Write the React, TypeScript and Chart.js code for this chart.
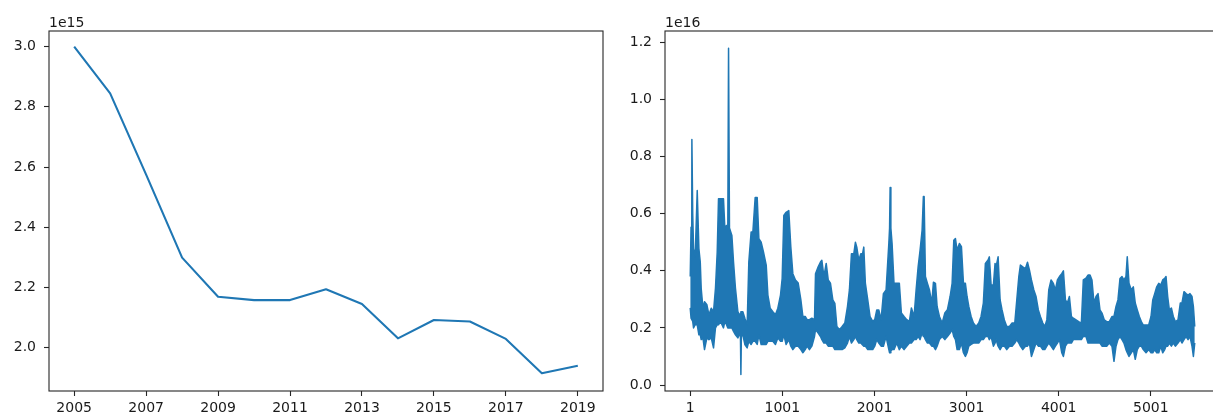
import React, { useEffect, useRef } from "react";
import { Chart, registerables } from "chart.js";

Chart.register(...registerables);

// ---------- Left panel: yearly totals (units of 1e15) ----------
const years = [2005, 2006, 2007, 2008, 2009, 2010, 2011, 2012, 2013, 2014, 2015, 2016, 2017, 2018, 2019];
const yearlyTotals = [3.0, 2.845, 2.575, 2.299, 2.169, 2.158, 2.158, 2.194, 2.145, 2.031, 2.092, 2.087, 2.029, 1.915, 1.94];
const yearTicks = [2005, 2007, 2009, 2011, 2013, 2015, 2017, 2019];
const leftYTicks = [2.0, 2.2, 2.4, 2.6, 2.8, 3.0];
const leftOffsetLabel = "1e15";

// ---------- Right panel: daily series (units of 1e16), upper / lower envelope read per column ----------
const days = [
  1, 10, 19, 28, 37, 55, 77, 95, 110, 120, 139, 156, 182, 204, 229, 254, 275, 294, 308, 330, 362, 377, 395, 409, 417, 427,
  453, 471, 492, 518, 535, 546, 551, 556, 572, 594, 619, 637, 662, 681, 706, 728, 746, 771, 796, 826, 844, 869, 898, 926,
  952, 981, 999, 1017, 1042, 1071,
  1093, 1115, 1143, 1173, 1202, 1224, 1249, 1270, 1295, 1321, 1350, 1361, 1390, 1415, 1430, 1452, 1477, 1499, 1523, 1549,
  1571, 1593, 1621, 1650, 1679, 1708, 1729, 1751, 1777, 1794, 1809, 1831, 1853, 1872, 1885, 1902, 1928, 1953, 1982, 2004,
  2026, 2048, 2073, 2098, 2127,
  2157, 2165, 2171, 2179, 2192, 2213, 2243, 2271, 2293, 2322, 2351, 2380, 2402, 2431, 2453, 2475, 2496, 2518, 2532, 2540,
  2554, 2576, 2598, 2623, 2641, 2663, 2681, 2706, 2736, 2765, 2793, 2822, 2844, 2862, 2880, 2898, 2923, 2945, 2967, 2988,
  3006, 3025, 3050, 3075, 3104, 3133, 3158, 3183, 3205, 3234,
  3248, 3267, 3292, 3310, 3321, 3343, 3365, 3386, 3411, 3437, 3466, 3495, 3524, 3546, 3568, 3585, 3611, 3640, 3662, 3683,
  3705, 3731, 3755, 3780, 3802, 3828, 3850, 3872, 3893, 3918, 3943, 3965, 3987, 4009, 4034, 4052, 4074, 4095, 4117, 4139,
  4160, 4189, 4218, 4247, 4268, 4297, 4319,
  4341, 4362, 4384, 4406, 4428, 4449, 4471, 4496, 4522, 4550, 4579, 4601, 4623, 4644, 4666, 4688, 4709, 4731, 4745, 4764,
  4789, 4811, 4832, 4854, 4876, 4898, 4919, 4949, 4978, 5003, 5022, 5043, 5065, 5087, 5109, 5130, 5152, 5166, 5184, 5202,
  5224, 5245, 5267, 5296, 5321, 5339, 5361, 5383, 5405, 5426, 5448, 5463, 5478,
];
const dailyHigh = [
  0.38, 0.553, 0.86, 0.6, 0.478, 0.45, 0.681, 0.478, 0.431, 0.339, 0.269, 0.292, 0.281, 0.246, 0.269, 0.257, 0.339, 0.466,
  0.652, 0.652, 0.652, 0.547, 0.559, 0.56, 1.18, 0.55, 0.524, 0.431, 0.339, 0.257, 0.246, 0.25, 0.257, 0.257, 0.257, 0.234,
  0.211, 0.431, 0.536, 0.536, 0.657, 0.657, 0.513, 0.5, 0.466, 0.42, 0.315, 0.269, 0.257, 0.246, 0.269, 0.315, 0.373,
  0.594, 0.605, 0.611,
  0.483, 0.39, 0.368, 0.357, 0.298, 0.24, 0.24, 0.229, 0.229, 0.234, 0.229, 0.39, 0.414, 0.431, 0.437, 0.38, 0.426, 0.368,
  0.357, 0.298, 0.286, 0.205, 0.194, 0.205, 0.217, 0.275, 0.333, 0.46, 0.46, 0.5, 0.483, 0.437, 0.46, 0.46, 0.483, 0.357,
  0.298, 0.24, 0.223, 0.229, 0.263, 0.263, 0.229, 0.32, 0.333,
  0.496, 0.55, 0.692, 0.55, 0.496, 0.356, 0.356, 0.356, 0.252, 0.24, 0.229, 0.223, 0.27, 0.24, 0.333, 0.414, 0.472, 0.542,
  0.66, 0.66, 0.38, 0.356, 0.333, 0.287, 0.36, 0.356, 0.275, 0.24, 0.217, 0.252, 0.264, 0.31, 0.356, 0.507, 0.513, 0.472,
  0.496, 0.485, 0.356, 0.356, 0.31, 0.275, 0.24, 0.217, 0.205, 0.217, 0.24, 0.287, 0.426, 0.438,
  0.449, 0.35, 0.35, 0.426, 0.414, 0.449, 0.298, 0.263, 0.228, 0.205, 0.205, 0.217, 0.217, 0.298, 0.38, 0.42, 0.414, 0.408,
  0.43, 0.403, 0.368, 0.333, 0.31, 0.263, 0.24, 0.217, 0.205, 0.228, 0.333, 0.368, 0.356, 0.333, 0.368, 0.38, 0.39, 0.4,
  0.298, 0.287, 0.31, 0.24, 0.234, 0.228, 0.222, 0.217, 0.368, 0.374, 0.385,
  0.385, 0.368, 0.287, 0.31, 0.32, 0.263, 0.252, 0.228, 0.222, 0.222, 0.24, 0.24, 0.275, 0.298, 0.373, 0.38, 0.368, 0.38,
  0.449, 0.356, 0.333, 0.344, 0.287, 0.263, 0.24, 0.222, 0.21, 0.21, 0.21, 0.24, 0.298, 0.32, 0.344, 0.356, 0.35, 0.368,
  0.374, 0.38, 0.31, 0.263, 0.27, 0.24, 0.222, 0.228, 0.287, 0.287, 0.327, 0.32, 0.315, 0.32, 0.31, 0.275, 0.205,
];
const dailyLow = [
  0.27, 0.234, 0.234, 0.223, 0.2, 0.211, 0.211, 0.176, 0.176, 0.159, 0.165, 0.124, 0.165, 0.159, 0.165, 0.13, 0.2, 0.211,
  0.211, 0.223, 0.2, 0.223, 0.211, 0.2, 0.2, 0.2, 0.2, 0.188, 0.176, 0.165, 0.176, 0.176, 0.037, 0.17, 0.176, 0.142, 0.13,
  0.153, 0.142, 0.153, 0.153, 0.142, 0.176, 0.142, 0.142, 0.142, 0.153, 0.153, 0.153, 0.142, 0.165, 0.153, 0.153, 0.176,
  0.142, 0.159,
  0.136, 0.124, 0.136, 0.136, 0.124, 0.113, 0.124, 0.136, 0.124, 0.136, 0.17, 0.194, 0.182, 0.17, 0.159, 0.147, 0.147,
  0.136, 0.136, 0.136, 0.124, 0.124, 0.124, 0.124, 0.13, 0.147, 0.17, 0.147, 0.159, 0.17, 0.159, 0.147, 0.147, 0.14,
  0.136, 0.136, 0.124, 0.124, 0.124, 0.136, 0.159, 0.147, 0.136, 0.136, 0.17,
  0.124, 0.113, 0.113, 0.12, 0.124, 0.124, 0.147, 0.124, 0.136, 0.124, 0.136, 0.147, 0.147, 0.159, 0.159, 0.17, 0.159,
  0.182, 0.17, 0.17, 0.159, 0.147, 0.147, 0.136, 0.136, 0.124, 0.136, 0.159, 0.17, 0.159, 0.17, 0.182, 0.194, 0.17, 0.159,
  0.124, 0.124, 0.147, 0.113, 0.1, 0.113, 0.136, 0.142, 0.147, 0.147, 0.147, 0.159, 0.159, 0.17, 0.17,
  0.159, 0.17, 0.136, 0.147, 0.159, 0.136, 0.124, 0.136, 0.136, 0.124, 0.136, 0.136, 0.147, 0.159, 0.147, 0.136, 0.124,
  0.136, 0.136, 0.147, 0.1, 0.124, 0.147, 0.136, 0.136, 0.124, 0.124, 0.136, 0.147, 0.136, 0.124, 0.136, 0.147, 0.159,
  0.113, 0.1, 0.136, 0.147, 0.147, 0.147, 0.159, 0.159, 0.159, 0.159, 0.17, 0.17, 0.147,
  0.147, 0.147, 0.147, 0.147, 0.147, 0.147, 0.136, 0.136, 0.136, 0.147, 0.136, 0.083, 0.136, 0.159, 0.17, 0.159, 0.147,
  0.124, 0.113, 0.1, 0.113, 0.124, 0.09, 0.124, 0.136, 0.136, 0.124, 0.113, 0.124, 0.113, 0.113, 0.124, 0.113, 0.113,
  0.136, 0.113, 0.124, 0.136, 0.136, 0.147, 0.136, 0.147, 0.136, 0.147, 0.159, 0.147, 0.159, 0.17, 0.159, 0.17, 0.136,
  0.1, 0.147,
];
const dayTicks = [1, 1001, 2001, 3001, 4001, 5001];
const rightYTicks = [0.0, 0.2, 0.4, 0.6, 0.8, 1.0, 1.2];
const rightOffsetLabel = "1e16";

const LINE_COLOR = "#1f77b4";
const TEXT_COLOR = "#1a1a1a";
const SPINE_COLOR = "#262626";
const FONT = { family: "'DejaVu Sans', sans-serif", size: 14 };

const framePlugin = {
  id: "frame",
  afterDraw(chart: any, _args: any, opts: any) {
    const { ctx, chartArea: a } = chart;
    ctx.save();
    ctx.strokeStyle = SPINE_COLOR;
    ctx.lineWidth = 1.1;
    ctx.strokeRect(a.left, a.top, a.right - a.left, a.bottom - a.top);
    if (opts && opts.offsetText) {
      ctx.fillStyle = TEXT_COLOR;
      ctx.font = `${FONT.size}px ${FONT.family}`;
      ctx.textAlign = "left";
      ctx.textBaseline = "alphabetic";
      ctx.fillText(opts.offsetText, a.left, a.top - 4);
    }
    ctx.restore();
  },
};

function axis(
  tickValues: number[],
  fmt: (v: number) => string,
  min: number,
  max: number,
  fitProp: "width" | "height",
  fitSize: number,
  padding: number
) {
  return {
    type: "linear" as const,
    min,
    max,
    afterBuildTicks: (s: any) => {
      s.ticks = tickValues.map((v) => ({ value: v }));
    },
    afterFit: (s: any) => {
      s[fitProp] = fitSize;
    },
    ticks: {
      callback: (v: any) => fmt(Number(v)),
      autoSkip: false,
      maxRotation: 0,
      minRotation: 0,
      padding,
      color: TEXT_COLOR,
      font: FONT,
    },
    grid: {
      display: true,
      drawOnChartArea: false,
      drawTicks: true,
      tickLength: 5,
      tickColor: SPINE_COLOR,
      tickWidth: 1.1,
    },
    border: { display: false },
  };
}

export default function App() {
  const leftRef = useRef<HTMLCanvasElement>(null);
  const rightRef = useRef<HTMLCanvasElement>(null);

  useEffect(() => {
    const left = new Chart(leftRef.current!, {
      type: "line",
      data: {
        datasets: [
          {
            data: years.map((y, i) => ({ x: y, y: yearlyTotals[i] })),
            borderColor: LINE_COLOR,
            borderWidth: 2.1,
            pointRadius: 0,
            tension: 0,
            fill: false,
            borderJoinStyle: "round",
            borderCapStyle: "butt",
          },
        ],
      },
      options: {
        responsive: false,
        animation: false,
        events: [],
        layout: { padding: { left: 0, right: 9, top: 31, bottom: 0 } },
        plugins: { legend: { display: false }, tooltip: { enabled: false }, frame: { offsetText: leftOffsetLabel } } as any,
        scales: {
          x: axis(yearTicks, (v) => String(Math.round(v)), 2004.3, 2019.7, "height", 28, 4),
          y: axis(leftYTicks, (v) => v.toFixed(1), 1.856, 3.052, "width", 49, 8),
        },
      },
      plugins: [framePlugin],
    });

    const right = new Chart(rightRef.current!, {
      type: "line",
      data: {
        datasets: [
          {
            data: days.map((d, i) => ({ x: d, y: dailyHigh[i] })),
            borderColor: LINE_COLOR,
            backgroundColor: LINE_COLOR,
            borderWidth: 1.5,
            pointRadius: 0,
            tension: 0,
            fill: false,
            borderJoinStyle: "round",
          },
          {
            data: days.map((d, i) => ({ x: d, y: dailyLow[i] })),
            borderColor: LINE_COLOR,
            backgroundColor: LINE_COLOR,
            borderWidth: 1.5,
            pointRadius: 0,
            tension: 0,
            fill: "-1",
            borderJoinStyle: "round",
          },
        ],
      },
      options: {
        responsive: false,
        animation: false,
        events: [],
        layout: { padding: { left: 0, right: 12, top: 31, bottom: 0 } },
        plugins: { legend: { display: false }, tooltip: { enabled: false }, frame: { offsetText: rightOffsetLabel } } as any,
        scales: {
          x: axis(dayTicks, (v) => String(Math.round(v)), -272.85, 5751.85, "height", 28, 4),
          y: axis(rightYTicks, (v) => v.toFixed(1), -0.021, 1.24, "width", 53, 8),
        },
      },
      plugins: [framePlugin],
    });

    return () => {
      left.destroy();
      right.destroy();
    };
  }, []);

  return (
    <div
      style={{
        position: "absolute",
        left: 0,
        top: 0,
        width: 1213,
        height: 419,
        overflow: "hidden",
        background: "#fff",
      }}
    >
      <canvas ref={leftRef} width={612} height={419} style={{ position: "absolute", left: 0, top: 0 }} />
      <canvas ref={rightRef} width={620} height={419} style={{ position: "absolute", left: 612, top: 0 }} />
    </div>
  );
}
